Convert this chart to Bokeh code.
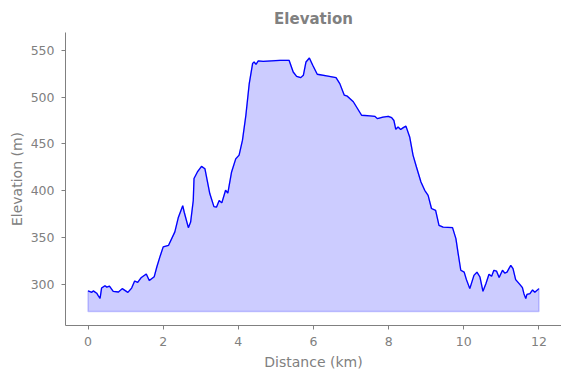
from bokeh.plotting import figure
from bokeh.models import Range1d, FixedTicker, Spacer
from bokeh.layouts import row, column
from bokeh.embed import file_html
from bokeh.resources import INLINE

distance_km = [0.0, 0.1, 0.14, 0.23, 0.27, 0.32, 0.36, 0.45, 0.5, 0.57, 0.67, 0.81, 0.91, 1.06, 1.16, 1.24,
               1.32, 1.41, 1.55, 1.63, 1.76, 1.83, 1.91, 2.0, 2.14, 2.31, 2.40, 2.52, 2.56, 2.67, 2.73, 2.80,
               2.82, 2.91, 3.02, 3.11, 3.24, 3.35, 3.42, 3.49, 3.56, 3.66, 3.72, 3.82, 3.93, 4.02, 4.11, 4.20,
               4.29, 4.38, 4.42, 4.47, 4.53, 4.66, 5.11, 5.35, 5.46, 5.55, 5.66, 5.73, 5.80, 5.89, 5.98, 6.10,
               6.35, 6.60, 6.70, 6.82, 6.90, 7.06, 7.28, 7.50, 7.63, 7.70, 7.85, 7.99, 8.08, 8.14, 8.19, 8.25,
               8.32, 8.39, 8.46, 8.56, 8.65, 8.74, 8.86, 8.96, 9.05, 9.14, 9.25, 9.34, 9.45, 9.70, 9.79, 9.85,
               9.92, 10.01, 10.07, 10.16, 10.27, 10.35, 10.43, 10.51, 10.59, 10.67, 10.74, 10.80, 10.87, 10.94,
               11.03, 11.09, 11.15, 11.25, 11.31, 11.38, 11.49, 11.56, 11.60, 11.65, 11.68, 11.76, 11.83, 11.89,
               12.0]
elevation_m = [293, 291.5, 293, 290.5, 288, 285, 296, 298.5, 297, 298, 292.5, 291.8, 295.4, 291.4, 296, 303.5,
               302, 307, 311, 304, 308, 318.5, 329, 340, 341.5, 356, 371, 384, 377, 360.5, 366.5, 389.5,
               413, 420, 426, 423.5, 397, 383, 382.5, 389.5, 387, 400.5, 397.5, 420, 434, 438, 454, 480.5,
               514.5, 536, 537.5, 535, 538.6, 538.2, 539.3, 539.3, 526.8, 522.2, 520.8, 523.3, 537.5, 541.8, 534, 524.4,
               522.6, 520.8, 514.4, 502, 501, 495, 480.6, 480, 479.5, 477, 478.7, 479.5, 478, 475, 465.6, 468,
               465.3, 467.4, 469, 457.4, 437.8, 425.3, 409.3, 400.4, 395, 381, 379, 363, 361, 360.6, 348.8, 332.8,
               315, 313, 305, 295.4, 309.6, 313, 307.8, 292.5, 300.8, 310.7, 308.5, 315, 314.2, 307.2,
               315, 312, 313, 320.3, 316.7, 305, 300, 296.5, 290, 284.7, 289.3, 290, 294, 291.5,
               295.4]
fill_base_m = 271

x_ticks = [0, 2, 4, 6, 8, 10, 12]
y_ticks = [300, 350, 400, 450, 500, 550]

GREY = "#808080"
FONT = "DejaVu Sans"

p = figure(frame_width=496, frame_height=293, output_backend="svg", toolbar_location=None,
           x_range=Range1d(-0.6, 12.6), y_range=Range1d(256, 569),
           title="Elevation", min_border_left=58, min_border_right=0,
           min_border_top=24, min_border_bottom=45)

p.title.align = "center"
p.title.text_color = GREY
p.title.text_font = FONT
p.title.text_font_size = "15px"
p.title.text_font_style = "bold"

patch_x = list(distance_km) + [distance_km[-1], distance_km[0]]
patch_y = list(elevation_m) + [fill_base_m, fill_base_m]
p.patch(patch_x, patch_y, fill_color="blue", fill_alpha=0.2, line_color="blue", line_alpha=0.2, line_width=1.5)
p.line(distance_km, elevation_m, line_color="blue", line_width=1.3)

p.grid.visible = False
p.outline_line_color = None
p.background_fill_color = "white"
p.border_fill_color = "white"

for ax in (p.xaxis[0], p.yaxis[0]):
    ax.axis_line_color = GREY
    ax.major_tick_line_color = GREY
    ax.minor_tick_line_color = None
    ax.major_tick_out = 4
    ax.major_tick_in = 0
    ax.major_label_text_color = GREY
    ax.major_label_text_font = FONT
    ax.major_label_text_font_size = "12.5px"
    ax.axis_label_text_color = GREY
    ax.axis_label_text_font = FONT
    ax.axis_label_text_font_size = "14px"
    ax.axis_label_text_font_style = "normal"

p.xaxis.ticker = FixedTicker(ticks=x_ticks)
p.yaxis.ticker = FixedTicker(ticks=y_ticks)
p.xaxis.axis_label = "Distance (km)"
p.yaxis.axis_label = "Elevation (m)"
p.xaxis.major_label_standoff = 7
p.xaxis.axis_label_standoff = 5
p.yaxis.major_label_standoff = 7
p.yaxis.axis_label_standoff = 3

page = column(Spacer(height=2), row(Spacer(width=5), p))

open("out.html", "w").write(file_html(page, INLINE))
